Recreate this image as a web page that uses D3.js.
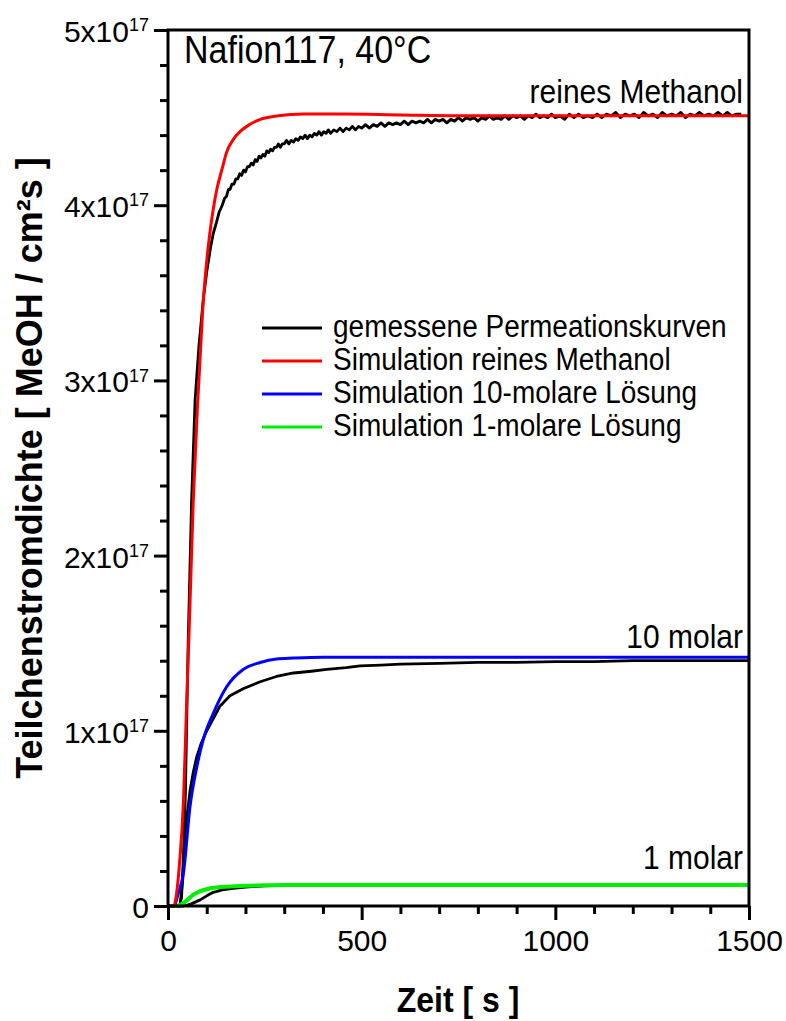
<!DOCTYPE html>
<html>
<head>
<meta charset="utf-8">
<script src="https://cdn.jsdelivr.net/npm/d3@7/dist/d3.min.js"></script>
<style>
  html, body { margin: 0; padding: 0; background: #fff; }
  svg { display: block; font-family: Arial, "Liberation Sans", sans-serif; }
</style>
</head>
<body>
<svg id="chart" width="786" height="1021"></svg>
<script>
// Time axis [s]
const xMajorTicks = [0, 500, 1000, 1500];
const xMinorTicks = [100, 200, 300, 400, 600, 700, 800, 900, 1100, 1200, 1300, 1400];
// Flux axis [MeOH / cm²s], labels written as mantissa x 10^17
const yMajorTicks = [0, 1e17, 2e17, 3e17, 4e17, 5e17];
const yMinorTicks = [0.2e17, 0.4e17, 0.6e17, 0.8e17, 1.2e17, 1.4e17, 1.6e17, 1.8e17,
                     2.2e17, 2.4e17, 2.6e17, 2.8e17, 3.2e17, 3.4e17, 3.6e17, 3.8e17,
                     4.2e17, 4.4e17, 4.6e17, 4.8e17];
const yTickMantissa = ["0", "1", "2", "3", "4", "5"];
const yTickExponent = "17";

// Simulation, pure methanol (values in 1e17)
const simPureT = [0, 15, 20, 30, 40, 48, 55, 65, 76, 81, 91, 100, 108, 117, 126, 140, 151, 170, 186, 210, 238, 284, 350, 450, 600, 800, 1000, 1200, 1500];
const simPureV = [0, 0, 0.04, 0.25, 0.6, 1.15, 1.6, 2.3, 2.85, 3.05, 3.45, 3.68, 3.84, 3.98, 4.09, 4.21, 4.30, 4.38, 4.42, 4.46, 4.49, 4.51, 4.52, 4.52, 4.515, 4.51, 4.51, 4.51, 4.51];

// Measured permeation, pure methanol
const measPureT = [0, 30, 35, 40, 45, 52, 61, 70, 80, 91, 100, 110, 117, 125, 132, 140, 146, 151, 156, 160, 165, 170, 175, 180, 185, 190, 195, 200, 205, 210, 215, 220, 225, 230, 235, 240, 245, 250, 255, 260, 265, 270, 275, 280, 285, 290, 295, 300, 306, 312, 318, 324, 330, 336, 342, 348, 354, 360, 366, 372, 378, 384, 390, 396, 402, 408, 414, 420, 428, 436, 444, 452, 460, 468, 476, 484, 492, 500, 510, 520, 530, 540, 550, 560, 570, 580, 590, 600, 610, 620, 630, 640, 650, 660, 670, 680, 690, 700, 710, 720, 730, 740, 750, 760, 770, 780, 790, 800, 810, 820, 830, 840, 850, 860, 870, 880, 890, 900, 910, 920, 930, 940, 950, 960, 970, 980, 990, 1000, 1012, 1024, 1036, 1048, 1060, 1072, 1084, 1096, 1108, 1120, 1132, 1144, 1156, 1168, 1180, 1192, 1204, 1216, 1228, 1240, 1252, 1264, 1276, 1288, 1300, 1312, 1324, 1336, 1348, 1360, 1372, 1384, 1396, 1408, 1420, 1432, 1444, 1456, 1468, 1480, 1492, 1500];
const measPureV = [0, 0, 0.05, 0.3, 0.65, 1.5, 2.32, 2.89, 3.2, 3.46, 3.62, 3.76, 3.84, 3.90, 3.96, 4.00, 4.04, 4.05, 4.09, 4.09, 4.12, 4.12, 4.15, 4.15, 4.18, 4.17, 4.20, 4.19, 4.22, 4.22, 4.24, 4.23, 4.26, 4.25, 4.28, 4.27, 4.29, 4.28, 4.31, 4.30, 4.32, 4.31, 4.33, 4.33, 4.35, 4.33, 4.35, 4.35, 4.37, 4.35, 4.37, 4.36, 4.38, 4.37, 4.39, 4.38, 4.40, 4.38, 4.40, 4.39, 4.41, 4.40, 4.42, 4.40, 4.42, 4.41, 4.43, 4.41, 4.43, 4.42, 4.44, 4.42, 4.44, 4.43, 4.45, 4.43, 4.45, 4.44, 4.46, 4.44, 4.46, 4.45, 4.47, 4.45, 4.47, 4.46, 4.47, 4.46, 4.48, 4.46, 4.48, 4.47, 4.48, 4.47, 4.49, 4.47, 4.49, 4.48, 4.49, 4.47, 4.49, 4.48, 4.50, 4.48, 4.50, 4.49, 4.50, 4.48, 4.50, 4.49, 4.51, 4.49, 4.50, 4.49, 4.51, 4.49, 4.51, 4.50, 4.51, 4.49, 4.51, 4.50, 4.52, 4.50, 4.51, 4.50, 4.52, 4.50, 4.51, 4.49, 4.52, 4.50, 4.52, 4.50, 4.51, 4.50, 4.52, 4.50, 4.52, 4.51, 4.53, 4.50, 4.52, 4.51, 4.52, 4.50, 4.53, 4.51, 4.52, 4.50, 4.53, 4.51, 4.52, 4.51, 4.53, 4.50, 4.52, 4.51, 4.53, 4.51, 4.52, 4.51, 4.53, 4.51, 4.53, 4.51, 4.52, 4.52];

// Simulation, 10-molar solution
const sim10T = [0, 16, 25, 40, 57, 74, 91, 117, 151, 194, 238, 280, 324, 400, 496, 700, 1000, 1500];
const sim10V = [0, 0, 0.06, 0.19, 0.57, 0.79, 0.95, 1.10, 1.25, 1.35, 1.39, 1.41, 1.415, 1.42, 1.42, 1.42, 1.42, 1.42];

// Measured permeation, 10-molar solution
const meas10T = [0, 31, 38, 44, 50, 57, 65, 74, 86, 100, 117, 134, 160, 194, 238, 280, 324, 370, 410, 460, 496, 550, 600, 700, 800, 900, 1000, 1100, 1200, 1300, 1400, 1500];
const meas10V = [0, 0, 0.15, 0.38, 0.53, 0.66, 0.76, 0.85, 0.93, 1.0, 1.07, 1.14, 1.20, 1.24, 1.28, 1.31, 1.33, 1.34, 1.35, 1.36, 1.37, 1.375, 1.38, 1.385, 1.39, 1.39, 1.395, 1.395, 1.40, 1.40, 1.40, 1.40];

// Simulation, 1-molar solution
const sim1T = [0, 20, 30, 40, 50, 65, 83, 108, 130, 151, 200, 250, 300, 400, 1500];
const sim1V = [0, 0, 0.005, 0.017, 0.035, 0.063, 0.085, 0.10, 0.107, 0.11, 0.115, 0.118, 0.12, 0.12, 0.12];

// Measured permeation, 1-molar solution
const meas1T = [0, 40, 50, 60, 83, 100, 117, 140, 168, 200, 250, 300, 400, 1500];
const meas1V = [0, 0, 0.005, 0.012, 0.035, 0.058, 0.078, 0.092, 0.10, 0.108, 0.115, 0.118, 0.12, 0.12];

const legendLabels = ["gemessene Permeationskurven", "Simulation reines Methanol",
                      "Simulation 10-molare Lösung", "Simulation 1-molare Lösung"];
const legendColors = ["#000000", "#ff0000", "#0000ff", "#00ee00"];

const svg = d3.select("#chart");
svg.append("rect").attr("width", 786).attr("height", 1021).attr("fill", "#fff");

const x = d3.scaleLinear().domain([0, 1500]).range([168, 749]);
const y = d3.scaleLinear().domain([0, 5e17]).range([906, 30]);

const line = (curve) => d3.line().x(d => x(d[0])).y(d => y(d[1] * 1e17)).curve(curve);
const zip = (t, v) => t.map((d, i) => [d, v[i]]);

// Text helper with a slight vertical stretch
function label(x0, y0, str, size, anchor, weight, sy) {
  const g = svg.append("g").attr("transform", `translate(${x0},${y0}) scale(1,${sy})`);
  return g.append("text").attr("x", 0).attr("y", 0)
    .attr("font-size", size).attr("font-weight", weight || "normal")
    .attr("text-anchor", anchor).attr("fill", "#000").text(str);
}

// Curves: measured first, simulations on top
const plot = svg.append("g");
[[measPureT, measPureV], [meas10T, meas10V], [meas1T, meas1V]].forEach(([t, v]) => {
  plot.append("path").datum(zip(t, v)).attr("d", line(d3.curveLinear))
    .attr("fill", "none").attr("stroke", "#000").attr("stroke-width", 2.8)
    .attr("stroke-linejoin", "round");
});
plot.append("path").datum(zip(sim1T, sim1V)).attr("d", line(d3.curveMonotoneX))
  .attr("fill", "none").attr("stroke", legendColors[3]).attr("stroke-width", 4);
plot.append("path").datum(zip(sim10T, sim10V)).attr("d", line(d3.curveMonotoneX))
  .attr("fill", "none").attr("stroke", legendColors[2]).attr("stroke-width", 3);
plot.append("path").datum(zip(simPureT, simPureV)).attr("d", line(d3.curveMonotoneX))
  .attr("fill", "none").attr("stroke", legendColors[1]).attr("stroke-width", 3);

// Axes
const axisStyle = g => {
  g.select(".domain").remove();
  g.selectAll(".tick line").attr("stroke", "#000").attr("stroke-width", 3);
};
svg.append("g").attr("transform", "translate(0,906)")
  .call(d3.axisBottom(x).tickValues(xMinorTicks).tickSize(8).tickFormat(""))
  .call(axisStyle);
const xAxis = svg.append("g").attr("transform", "translate(0,906)")
  .call(d3.axisBottom(x).tickValues(xMajorTicks).tickSize(14).tickPadding(10).tickFormat(d3.format("d")))
  .call(axisStyle);
xAxis.selectAll(".tick text").attr("font-size", 30).attr("font-family", "Arial, 'Liberation Sans', sans-serif")
  .attr("fill", "#000").attr("dy", "0.7em");

svg.append("g").attr("transform", "translate(168,0)")
  .call(d3.axisLeft(y).tickValues(yMinorTicks).tickSize(8).tickFormat(""))
  .call(axisStyle);
const yAxis = svg.append("g").attr("transform", "translate(168,0)")
  .call(d3.axisLeft(y).tickValues(yMajorTicks).tickSize(14).tickPadding(5).tickFormat(""))
  .call(axisStyle);
yAxis.selectAll(".tick text").each(function(d, i) {
  const t = d3.select(this).attr("font-size", 30).attr("font-family", "Arial, 'Liberation Sans', sans-serif")
    .attr("fill", "#000").attr("dy", "0.38em").attr("x", -19);
  if (d === 0) { t.text(yTickMantissa[i]); return; }
  t.text(null);
  t.append("tspan").text(yTickMantissa[i] + "x10");
  t.append("tspan").attr("font-size", 18).attr("dy", "-0.6em").text(yTickExponent);
});

// Frame
svg.append("rect").attr("x", x(0)).attr("y", y(5e17))
  .attr("width", x(1500) - x(0)).attr("height", y(0) - y(5e17))
  .attr("fill", "none").attr("stroke", "#000").attr("stroke-width", 3);

// Axis titles
label(458, 1012, "Zeit [ s ]", 32, "middle", "bold", 1.12);
svg.append("text").attr("transform", "translate(42,468) rotate(-90)")
  .attr("font-size", 36).attr("font-weight", "bold").attr("text-anchor", "middle")
  .attr("fill", "#000").text("Teilchenstromdichte [ MeOH / cm²s ]");

// Annotations
label(184, 63, "Nafion117, 40°C", 34, "start", "normal", 1.12);
label(743, 103, "reines Methanol", 30, "end", "normal", 1.12);
label(743, 648, "10 molar", 30, "end", "normal", 1.12);
label(743, 869, "1 molar", 30, "end", "normal", 1.12);

// Legend
const legendY = [328, 361, 394, 427];
legendLabels.forEach((name, i) => {
  svg.append("line").attr("x1", 262).attr("x2", 322).attr("y1", legendY[i]).attr("y2", legendY[i])
    .attr("stroke", legendColors[i]).attr("stroke-width", 3);
  label(333, legendY[i] + 9, name, 28, "start", "normal", 1.1);
});
</script>
</body>
</html>
